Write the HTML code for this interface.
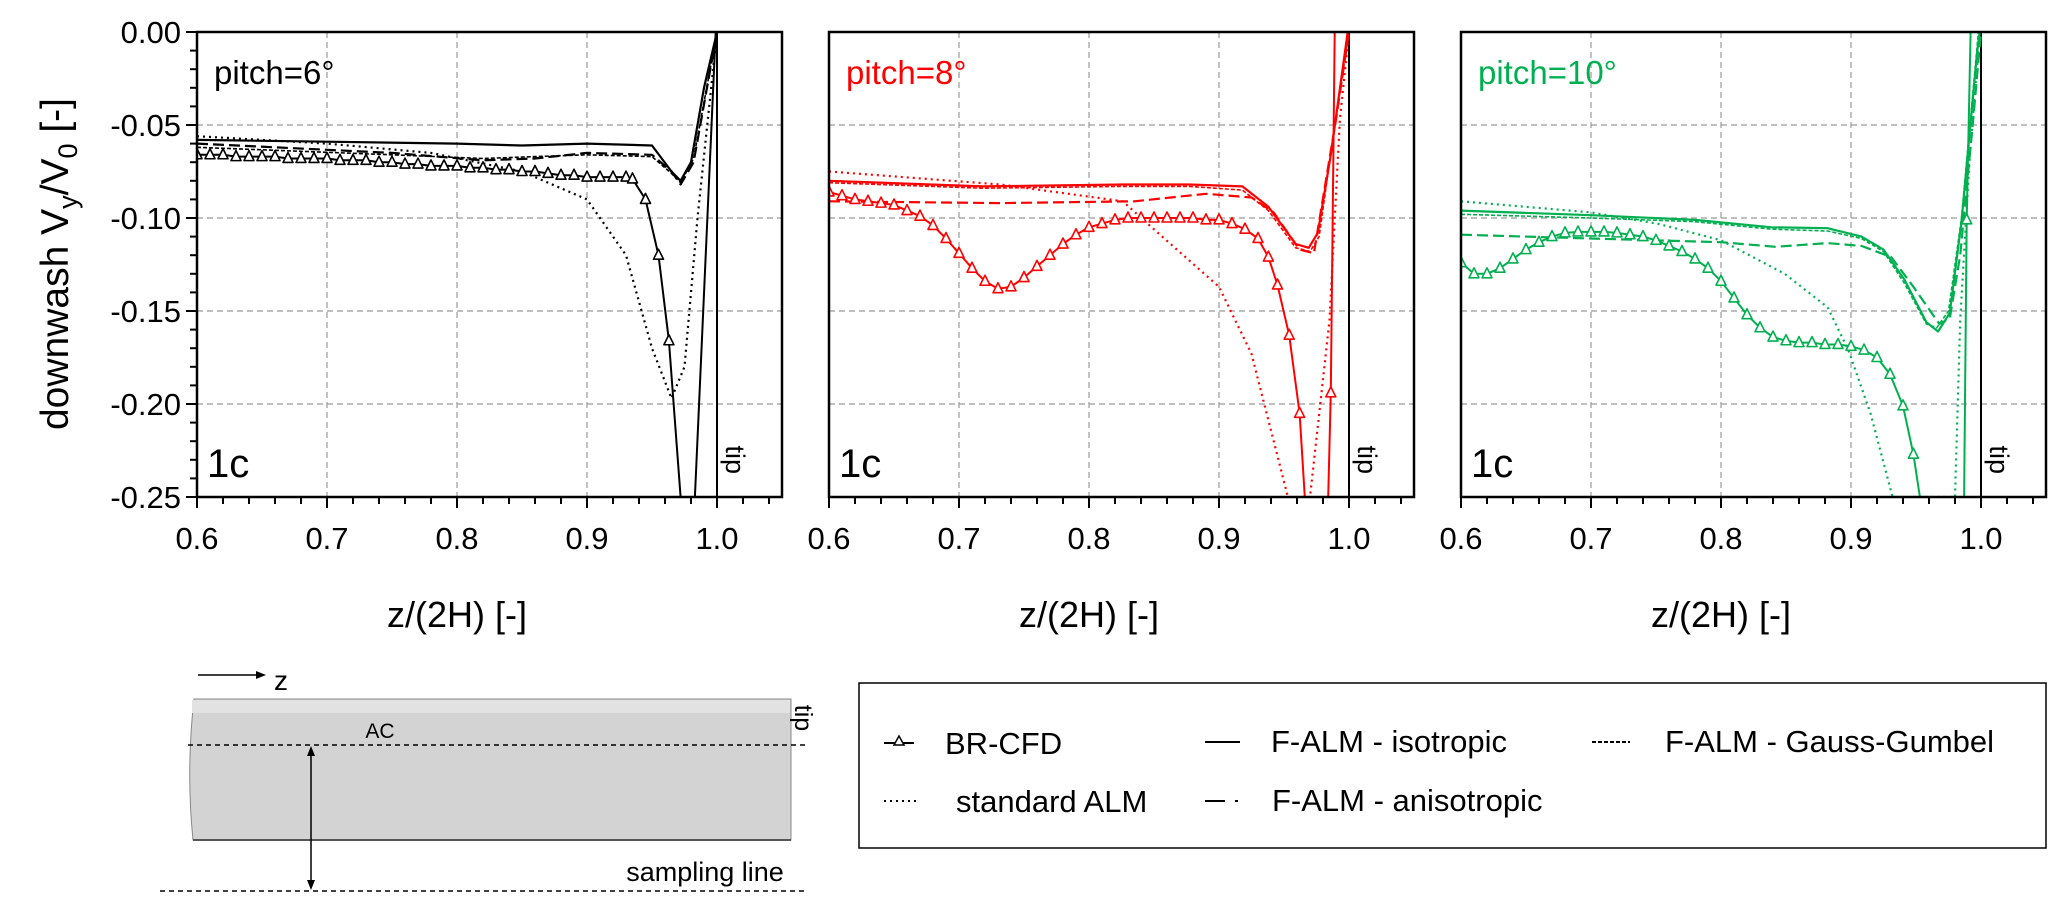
<!DOCTYPE html>
<html><head><meta charset="utf-8"><style>
html,body{margin:0;padding:0;background:#fff;}
svg{display:block;font-family:"Liberation Sans",Arial,sans-serif;}
</style></head><body>
<svg id="fig" width="2067" height="909" viewBox="0 0 2067 909" xmlns="http://www.w3.org/2000/svg">
<defs>
<clipPath id="c0"><rect x="197" y="32" width="585" height="465"/></clipPath>
<clipPath id="c1"><rect x="829" y="32" width="585" height="465"/></clipPath>
<clipPath id="c2"><rect x="1461" y="32" width="585" height="465"/></clipPath>
</defs>
<g id="panels"></g>
<text transform="translate(68,264) rotate(-90)" text-anchor="middle" font-size="39">downwash V<tspan font-size="27" dy="9">y</tspan><tspan dy="-9">/V</tspan><tspan font-size="27" dy="9">0</tspan><tspan dy="-9"> [-]</tspan></text>

<g>
<line x1="198" y1="675" x2="258" y2="675" stroke="#000" stroke-width="1.5"/>
<polygon points="266,675 256,671 256,679" fill="#000"/>
<text x="274" y="690" font-size="28">z</text>
<path d="M194,699 L791,699 L791,840 L193,840 Q186,770 194,699 Z" fill="#d3d3d3" stroke="#888" stroke-width="1"/>
<rect x="192" y="700" width="598" height="13" fill="#e2e2e2"/>
<line x1="193" y1="840" x2="791" y2="840" stroke="#555" stroke-width="2"/>
<line x1="188" y1="745" x2="806" y2="745" stroke="#000" stroke-width="1.5" stroke-dasharray="5 4"/>
<text x="380" y="738" font-size="21" text-anchor="middle">AC</text>
<line x1="311" y1="752" x2="311" y2="884" stroke="#000" stroke-width="1.5"/>
<polygon points="311,746 307,756 315,756" fill="#000"/>
<polygon points="311,890 307,880 315,880" fill="#000"/>
<line x1="160" y1="891" x2="806" y2="891" stroke="#000" stroke-width="1.5" stroke-dasharray="5 4"/>
<text x="705" y="881" font-size="27" text-anchor="middle">sampling line</text>
<text transform="translate(795,718) rotate(90)" font-size="25" text-anchor="middle">tip</text>
</g>

<g>
<rect x="859" y="683" width="1187" height="165" fill="#fff" stroke="#000" stroke-width="1.5"/>
<g>
<line x1="884" y1="743" x2="914" y2="743" stroke="#000" stroke-width="2"/>
<polygon points="899,736 894,745 904,745" fill="#fff" stroke="#000" stroke-width="1.5"/>
<text x="945" y="754" font-size="31">BR-CFD</text></g>
<g>
<line x1="1205" y1="742" x2="1240" y2="742" stroke="#000" stroke-width="2"/>
<text x="1271" y="752" font-size="31">F-ALM - isotropic</text></g>
<g>
<line x1="1592" y1="742" x2="1630" y2="742" stroke="#000" stroke-width="2" stroke-dasharray="4 2"/>
<text x="1665" y="752" font-size="31">F-ALM - Gauss-Gumbel</text></g>
<g>
<line x1="884" y1="801" x2="918" y2="801" stroke="#000" stroke-width="2" stroke-dasharray="2 4"/>
<text x="956" y="812" font-size="31">standard ALM</text></g>
<g>
<line x1="1205" y1="801" x2="1225" y2="801" stroke="#000" stroke-width="2"/>
<line x1="1235" y1="801" x2="1238" y2="801" stroke="#000" stroke-width="2"/>
<text x="1272" y="811" font-size="31">F-ALM - anisotropic</text></g>
</g>
</svg>
<script>
// ---- data ----
const xTicks = [0.6, 0.7, 0.8, 0.9, 1.0];
const xTickLabels = ["0.6", "0.7", "0.8", "0.9", "1.0"];
const yTicks = [0, -0.05, -0.10, -0.15, -0.20, -0.25];
const yTickLabels = ["0.00", "-0.05", "-0.10", "-0.15", "-0.20", "-0.25"];
const pitchLabels = ["pitch=6°", "pitch=8°", "pitch=10°"];
const panelColors = ["#000000", "#ff0000", "#00b050"];

// pitch 6
const p6_br_z = [0.60,0.61,0.62,0.63,0.64,0.65,0.66,0.67,0.68,0.69,0.70,0.71,0.72,0.73,0.74,0.75,0.76,0.77,0.78,0.79,0.80,0.81,0.82,0.83,0.84,0.85,0.86,0.87,0.88,0.89,0.90,0.91,0.92,0.93,0.935,0.945,0.955,0.963,0.972,0.983,0.999];
const p6_br_v = [-0.066,-0.066,-0.066,-0.067,-0.067,-0.067,-0.067,-0.068,-0.068,-0.068,-0.068,-0.069,-0.069,-0.069,-0.070,-0.070,-0.071,-0.071,-0.072,-0.072,-0.072,-0.073,-0.073,-0.074,-0.074,-0.075,-0.075,-0.076,-0.077,-0.077,-0.078,-0.078,-0.078,-0.078,-0.079,-0.090,-0.120,-0.166,-0.25,-0.25,0];
const p6_iso_z = [0.60,0.70,0.80,0.85,0.90,0.95,0.965,0.972,0.98,0.99,1.0];
const p6_iso_v = [-0.058,-0.059,-0.060,-0.061,-0.060,-0.061,-0.075,-0.080,-0.070,-0.030,0];
const p6_ani_z = [0.60,0.75,0.82,0.86,0.90,0.95,0.965,0.972,0.982,1.0];
const p6_ani_v = [-0.060,-0.065,-0.069,-0.068,-0.065,-0.066,-0.075,-0.082,-0.070,0];
const p6_gg_z = [0.60,0.75,0.82,0.86,0.90,0.95,0.965,0.972,0.982,1.0];
const p6_gg_v = [-0.062,-0.066,-0.068,-0.067,-0.066,-0.067,-0.076,-0.081,-0.068,0];
const p6_std_z = [0.60,0.70,0.78,0.85,0.90,0.93,0.95,0.965,0.975,0.985,1.0];
const p6_std_v = [-0.056,-0.060,-0.065,-0.075,-0.090,-0.120,-0.170,-0.197,-0.180,-0.100,0];

// pitch 8
const p8_br_z = [0.60,0.61,0.62,0.63,0.64,0.65,0.66,0.67,0.68,0.69,0.70,0.71,0.72,0.73,0.74,0.75,0.76,0.77,0.78,0.79,0.80,0.81,0.82,0.83,0.84,0.85,0.86,0.87,0.88,0.89,0.90,0.91,0.92,0.93,0.938,0.945,0.954,0.962,0.966,0.984,0.986,0.989];
const p8_br_v = [-0.086,-0.088,-0.090,-0.091,-0.092,-0.093,-0.096,-0.099,-0.104,-0.111,-0.119,-0.127,-0.134,-0.138,-0.137,-0.132,-0.126,-0.120,-0.114,-0.109,-0.105,-0.103,-0.101,-0.100,-0.100,-0.100,-0.100,-0.100,-0.100,-0.101,-0.101,-0.103,-0.106,-0.111,-0.121,-0.136,-0.163,-0.205,-0.25,-0.25,-0.194,0];
const p8_iso_z = [0.60,0.718,0.826,0.877,0.918,0.938,0.959,0.969,0.976,0.986,0.999];
const p8_iso_v = [-0.080,-0.083,-0.082,-0.082,-0.083,-0.094,-0.114,-0.116,-0.108,-0.066,0];
const p8_ani_z = [0.60,0.732,0.835,0.89,0.925,0.942,0.962,0.973,0.99,1.0];
const p8_ani_v = [-0.091,-0.092,-0.091,-0.087,-0.089,-0.097,-0.117,-0.119,-0.047,0];
const p8_gg_z = [0.60,0.718,0.826,0.877,0.918,0.938,0.959,0.970,0.977,0.987,1.0];
const p8_gg_v = [-0.081,-0.084,-0.083,-0.083,-0.085,-0.096,-0.116,-0.118,-0.110,-0.060,0];
const p8_std_z = [0.60,0.732,0.826,0.845,0.90,0.925,0.953,0.970,0.985,0.993,1.0];
const p8_std_v = [-0.075,-0.082,-0.091,-0.103,-0.137,-0.173,-0.25,-0.25,-0.155,-0.047,0];

// pitch 10
const p10_br_z = [0.60,0.61,0.62,0.63,0.64,0.65,0.66,0.67,0.68,0.69,0.70,0.71,0.72,0.73,0.74,0.75,0.76,0.77,0.78,0.79,0.80,0.81,0.82,0.83,0.84,0.85,0.86,0.87,0.88,0.89,0.90,0.91,0.92,0.93,0.94,0.948,0.953,0.987,0.989,0.992];
const p10_br_v = [-0.124,-0.130,-0.130,-0.127,-0.122,-0.117,-0.113,-0.110,-0.108,-0.1075,-0.1075,-0.1075,-0.108,-0.109,-0.110,-0.112,-0.115,-0.118,-0.122,-0.127,-0.134,-0.143,-0.152,-0.159,-0.164,-0.166,-0.167,-0.167,-0.168,-0.168,-0.169,-0.171,-0.175,-0.184,-0.201,-0.227,-0.25,-0.25,-0.101,0];
const p10_iso_z = [0.60,0.70,0.78,0.839,0.882,0.908,0.925,0.941,0.958,0.967,0.976,0.985,0.997,0.999];
const p10_iso_v = [-0.096,-0.0985,-0.101,-0.105,-0.1055,-0.110,-0.117,-0.133,-0.156,-0.161,-0.151,-0.102,-0.011,0];
const p10_ani_z = [0.60,0.70,0.80,0.842,0.882,0.908,0.931,0.948,0.968,0.976,0.984,0.994,1.0];
const p10_ani_v = [-0.109,-0.111,-0.113,-0.1155,-0.1135,-0.115,-0.121,-0.137,-0.157,-0.154,-0.120,-0.047,0];
const p10_gg_z = [0.60,0.70,0.78,0.839,0.882,0.908,0.925,0.941,0.958,0.966,0.975,0.985,0.998];
const p10_gg_v = [-0.098,-0.100,-0.102,-0.106,-0.107,-0.111,-0.118,-0.135,-0.157,-0.159,-0.150,-0.100,0];
const p10_std_z = [0.60,0.70,0.751,0.80,0.849,0.882,0.898,0.915,0.932,0.98,0.984,0.991,0.999];
const p10_std_v = [-0.091,-0.097,-0.103,-0.112,-0.130,-0.148,-0.171,-0.205,-0.25,-0.25,-0.155,-0.071,0];

const panelData = [
  {br:[p6_br_z,p6_br_v], iso:[p6_iso_z,p6_iso_v], ani:[p6_ani_z,p6_ani_v], gg:[p6_gg_z,p6_gg_v], std:[p6_std_z,p6_std_v]},
  {br:[p8_br_z,p8_br_v], iso:[p8_iso_z,p8_iso_v], ani:[p8_ani_z,p8_ani_v], gg:[p8_gg_z,p8_gg_v], std:[p8_std_z,p8_std_v]},
  {br:[p10_br_z,p10_br_v], iso:[p10_iso_z,p10_iso_v], ani:[p10_ani_z,p10_ani_v], gg:[p10_gg_z,p10_gg_v], std:[p10_std_z,p10_std_v]}
];

// ---- layout ----
const NS = "http://www.w3.org/2000/svg";
const panelX0 = [197, 829, 1461];
const W = 585, Y0 = 32, H = 465;
const xMin = 0.6, xMax = 1.05, yMin = -0.25, yMax = 0;
function mk(tag, attrs, parent){ const e=document.createElementNS(NS,tag); for(const k in attrs) e.setAttribute(k,attrs[k]); parent.appendChild(e); return e; }
const root = document.getElementById("panels");

panelData.forEach((pd, i) => {
  const x0 = panelX0[i];
  const sx = z => x0 + (z - xMin) / (xMax - xMin) * W;
  const sy = v => Y0 + (yMax - v) / (yMax - yMin) * H;
  const col = panelColors[i];
  const g = mk("g", {}, root);
  
  
  const grid = mk("g", {stroke:"#9a9a9a","stroke-width":1.2,"stroke-dasharray":"6 4"}, g);
  
  
  [0.7,0.8,0.9].forEach(z => mk("line",{x1:sx(z),x2:sx(z),y1:Y0,y2:Y0+H},grid));
  [-0.05,-0.10,-0.15,-0.20].forEach(v => mk("line",{x1:x0,x2:x0+W,y1:sy(v),y2:sy(v)},grid));
  const tk = mk("g",{stroke:"#000","stroke-width":2},g);
  
  
  for (let k=0;k<=22;k++){ const z=0.6+k*0.02; if(z>1.05)break; const major=(k%5===0); mk("line",{x1:sx(z),x2:sx(z),y1:Y0+H,y2:Y0+H+(major?11:7)},tk); }
  xTicks.forEach((z,j) => {
    const t = mk("text",{x:sx(z),y:Y0+H+52,"text-anchor":"middle","font-size":31},g);
    t.textContent = xTickLabels[j];
    
    
  });
  const xt = mk("text",{x:sx(0.8),y:627,"text-anchor":"middle","font-size":36},g);
  xt.textContent = "z/(2H) [-]";
  
  
  if (i===0){
    const ty = mk("g",{stroke:"#000","stroke-width":2},g);
    
    
    for (let k=0;k<=25;k++){ const v=-k*0.01; const major=(k%5===0); mk("line",{x1:x0-(major?11:7),x2:x0,y1:sy(v),y2:sy(v)},ty); }
    yTicks.forEach((v,j) => {
      const t = mk("text",{x:x0-16,y:sy(v)+11,"text-anchor":"end","font-size":31},g);
      t.textContent = yTickLabels[j];
      
      
    });
  }
  const tl = mk("line",{x1:sx(1.0),x2:sx(1.0),y1:Y0,y2:Y0+H,stroke:"#000","stroke-width":2},g);
  
  
  const tt = mk("text",{transform:`translate(${sx(1.0)+9},${sy(-0.23)}) rotate(90)`,"text-anchor":"middle","font-size":27},g);
  tt.textContent = "tip";
  
  
  const sg = mk("g",{"clip-path":`url(#c${i})`,fill:"none",stroke:col,"stroke-width":2.2,"stroke-linejoin":"round"},g);
  
  
  const pathOf = (zs,vs) => zs.map((z,k)=>(k?"L":"M")+sx(z).toFixed(1)+","+sy(vs[k]).toFixed(1)).join(" ");
  const s1 = mk("path",{d:pathOf(...pd.std),"stroke-dasharray":"2 4"},sg);
  
  
  const s2 = mk("path",{d:pathOf(...pd.gg),"stroke-dasharray":"4 2","stroke-width":1.6},sg);
  
  
  const s3 = mk("path",{d:pathOf(...pd.ani),"stroke-dasharray":"11 5"},sg);
  
  
  const s4 = mk("path",{d:pathOf(...pd.iso)},sg);
  
  
  const s5 = mk("path",{d:pathOf(...pd.br),"stroke-width":2},sg);
  
  
  pd.br[0].forEach((z,k) => {
    const v = pd.br[1][k];
    if (v < -0.245 || v > -0.002) return;
    const cx = sx(z), cy = sy(v);
    const m = mk("polygon",{points:`${cx},${cy-6} ${cx-5},${cy+4} ${cx+5},${cy+4}`,fill:"#fff",stroke:col,"stroke-width":1.6},sg);
    
    
  });
  const fr = mk("rect",{x:x0,y:Y0,width:W,height:H,fill:"none",stroke:"#000","stroke-width":2.5},g);
  
  
  const pl = mk("text",{x:x0+17,y:84,"font-size":33,fill:col},g);
  pl.textContent = pitchLabels[i];
  
  
  const cl = mk("text",{x:x0+10,y:477,"font-size":40},g);
  cl.textContent = "1c";
  
  
});
</script>
</body></html>
